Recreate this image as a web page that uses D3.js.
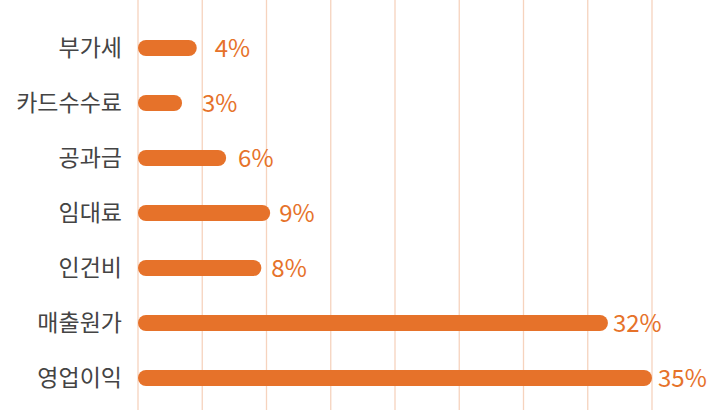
<!DOCTYPE html><html><head><meta charset="utf-8"><script src="https://d3js.org/d3.v7.min.js"></script>
<style>body{margin:0;background:#fff}</style></head><body><svg id="c" width="711" height="410"></svg>
<script>
const categories=["부가세","카드수수료","공과금","임대료","인건비","매출원가","영업이익"];
const values=[4,3,6,9,8.4,32,35];
const labels=["4%","3%","6%","9%","8%","32%","35%"];
const svg=d3.select("#c");
const x=d3.scaleLinear().domain([0,35]).range([138,652]);
const y=d3.scalePoint().domain(categories).range([48,378]);
const color="#E6722A";
const labelGap=[18,20,12,9,10,5,6];
const grid=d3.range(0,9).map(i=>i*35/8);
svg.selectAll("line.g").data(grid).enter().append("line")
 .attr("x1",d=>x(d)).attr("x2",d=>x(d)).attr("y1",0).attr("y2",410)
 .attr("stroke","#F6D3BE").attr("stroke-width",1.3);
const h=16;
svg.selectAll("rect.b").data(values).enter().append("rect")
 .attr("x",x(0)).attr("y",(d,i)=>y(categories[i])-h/2)
 .attr("width",d=>x(d)-x(0)).attr("height",h).attr("rx",h/2).attr("fill",color);
svg.selectAll("text.c").data(categories).enter().append("text")
 .attr("x",122).attr("y",d=>y(d)).attr("dy","0.36em").attr("text-anchor","end")
 .attr("font-family","Noto Sans CJK KR").attr("font-size",23).attr("fill","#444").text(d=>d);
svg.selectAll("text.v").data(values).enter().append("text")
 .attr("x",(d,i)=>x(d)+labelGap[i]).attr("y",(d,i)=>y(categories[i])).attr("dy","0.36em")
 .attr("font-family","Noto Sans CJK KR").attr("font-size",24).attr("fill",color).text((d,i)=>labels[i]);
</script></body></html>
